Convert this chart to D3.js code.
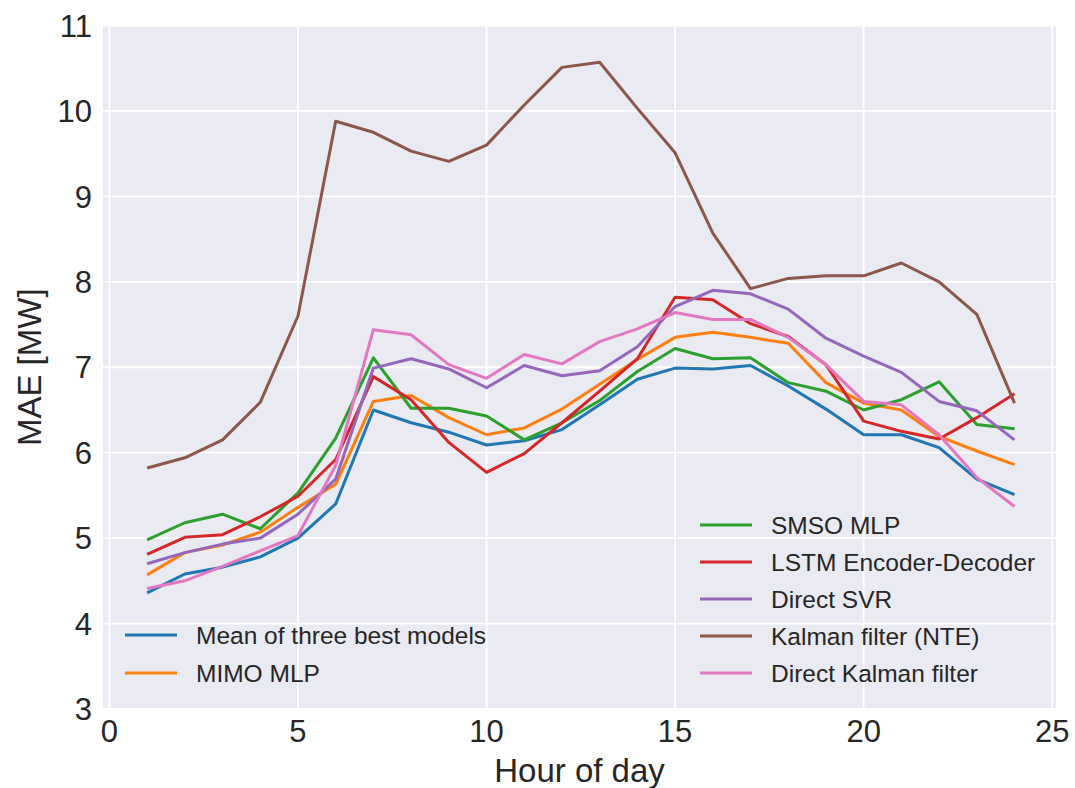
<!DOCTYPE html>
<html lang="en">
<head>
  <meta charset="utf-8">
  <title>MAE by hour of day</title>
  <script src="https://d3js.org/d3.v7.min.js" charset="utf-8"></script>
  <style>
    body { margin: 0; background: #fff; }
    text { font-family: "Liberation Sans", Arial, sans-serif; fill: #262626; }
  </style>
</head>
<body>
  <script type="text/javascript">

    // hours 1..24
    const hours = d3.range(1, 25)

    const meanBest = [4.36, 4.58, 4.66, 4.78, 5.00, 5.40, 6.50, 6.35, 6.24, 6.09, 6.14, 6.27, 6.56, 6.86, 6.99, 6.98, 7.02, 6.78, 6.51, 6.21, 6.21, 6.06, 5.69, 5.51]
    const mimoMlp = [4.57, 4.83, 4.92, 5.07, 5.36, 5.63, 6.60, 6.67, 6.41, 6.21, 6.29, 6.51, 6.80, 7.09, 7.35, 7.41, 7.35, 7.28, 6.82, 6.58, 6.50, 6.19, 6.02, 5.86]
    const smsoMlp = [4.98, 5.18, 5.28, 5.11, 5.53, 6.17, 7.11, 6.52, 6.52, 6.43, 6.15, 6.35, 6.61, 6.95, 7.22, 7.10, 7.11, 6.82, 6.72, 6.50, 6.62, 6.83, 6.33, 6.28]
    const lstm = [4.81, 5.01, 5.04, 5.25, 5.49, 5.92, 6.89, 6.62, 6.12, 5.77, 5.99, 6.35, 6.72, 7.10, 7.82, 7.79, 7.51, 7.36, 7.03, 6.37, 6.25, 6.16, 6.41, 6.69]
    const directSvr = [4.70, 4.83, 4.93, 5.00, 5.28, 5.69, 6.99, 7.10, 6.98, 6.76, 7.02, 6.90, 6.96, 7.24, 7.71, 7.90, 7.86, 7.68, 7.34, 7.13, 6.94, 6.60, 6.49, 6.15]
    const kalmanNte = [5.82, 5.94, 6.15, 6.59, 7.60, 9.88, 9.75, 9.53, 9.41, 9.60, 10.07, 10.51, 10.57, 10.03, 9.51, 8.57, 7.92, 8.04, 8.07, 8.07, 8.22, 8.00, 7.62, 6.58]
    const directKalman = [4.41, 4.50, 4.67, 4.85, 5.03, 5.85, 7.44, 7.38, 7.03, 6.87, 7.15, 7.04, 7.30, 7.45, 7.64, 7.56, 7.56, 7.35, 7.03, 6.60, 6.56, 6.21, 5.71, 5.37]

    const seriesNames = ["Mean of three best models", "MIMO MLP", "SMSO MLP", "LSTM Encoder-Decoder", "Direct SVR", "Kalman filter (NTE)", "Direct Kalman filter"]
    const seriesValues = [meanBest, mimoMlp, smsoMlp, lstm, directSvr, kalmanNte, directKalman]
    const colors = ["#1f77b4", "#ff7f0e", "#2ca02c", "#d62728", "#9467bd", "#8c564b", "#e377c2"]

    const xTicks = [0, 5, 10, 15, 20, 25]
    const yTicks = [3, 4, 5, 6, 7, 8, 9, 10, 11]

    const W = 1075, H = 788
    const pLeft = 103, pRight = 1056, pTop = 25.5, pBottom = 709

    const svg = d3.select("body").append("svg")
      .attr("width", W).attr("height", H)

    const x = d3.scaleLinear().domain([-0.17, 25.1]).range([pLeft, pRight])
    const y = d3.scaleLinear().domain([3, 11]).range([pBottom, pTop])

    // background
    svg.append("rect")
      .attr("x", pLeft).attr("y", pTop)
      .attr("width", pRight - pLeft).attr("height", pBottom - pTop)
      .attr("fill", "#eaeaf2")

    // grid
    svg.append("g").selectAll("line").data(xTicks).join("line")
      .attr("x1", d => x(d)).attr("x2", d => x(d))
      .attr("y1", pTop).attr("y2", pBottom)
      .attr("stroke", "#fff").attr("stroke-width", 1.8)
    svg.append("g").selectAll("line").data(yTicks).join("line")
      .attr("x1", pLeft).attr("x2", pRight)
      .attr("y1", d => y(d)).attr("y2", d => y(d))
      .attr("stroke", "#fff").attr("stroke-width", 1.8)

    // tick labels
    svg.append("g").selectAll("text").data(xTicks).join("text")
      .attr("x", d => x(d)).attr("y", 742)
      .attr("text-anchor", "middle")
      .attr("font-size", 31)
      .text(d => d)
    svg.append("g").selectAll("text").data(yTicks).join("text")
      .attr("x", 92).attr("y", d => y(d)).attr("dy", "0.36em")
      .attr("text-anchor", "end")
      .attr("font-size", 31)
      .text(d => d)

    // axis titles
    svg.append("text")
      .attr("x", (pLeft + pRight) / 2).attr("y", 782)
      .attr("text-anchor", "middle")
      .attr("font-size", 33)
      .text("Hour of day")
    svg.append("text")
      .attr("transform", `translate(41,${(pTop + pBottom) / 2}) rotate(-90)`)
      .attr("text-anchor", "middle")
      .attr("font-size", 33)
      .text("MAE [MW]")

    // lines
    const line = d3.line()
      .x((d, i) => x(hours[i]))
      .y(d => y(d))

    svg.append("g").selectAll("path").data(seriesValues).join("path")
      .attr("d", line)
      .attr("fill", "none")
      .attr("stroke", (d, i) => colors[i])
      .attr("stroke-width", 3)
      .attr("stroke-linejoin", "round")

    // legends (two blocks)
    const legendBlocks = [
      { idx: [0, 1], x0: 125, y0: 635, gap: 38 },
      { idx: [2, 3, 4, 5, 6], x0: 700, y0: 525, gap: 37 }
    ]
    legendBlocks.forEach(b => {
      const g = svg.append("g")
      b.idx.forEach((k, j) => {
        const yy = b.y0 + j * b.gap
        g.append("line")
          .attr("x1", b.x0).attr("x2", b.x0 + 52)
          .attr("y1", yy).attr("y2", yy)
          .attr("stroke", colors[k]).attr("stroke-width", 3)
        g.append("text")
          .attr("x", b.x0 + 71).attr("y", yy).attr("dy", "0.36em")
          .attr("font-size", 24.5)
          .text(seriesNames[k])
      })
    })

  </script>
</body>
</html>
